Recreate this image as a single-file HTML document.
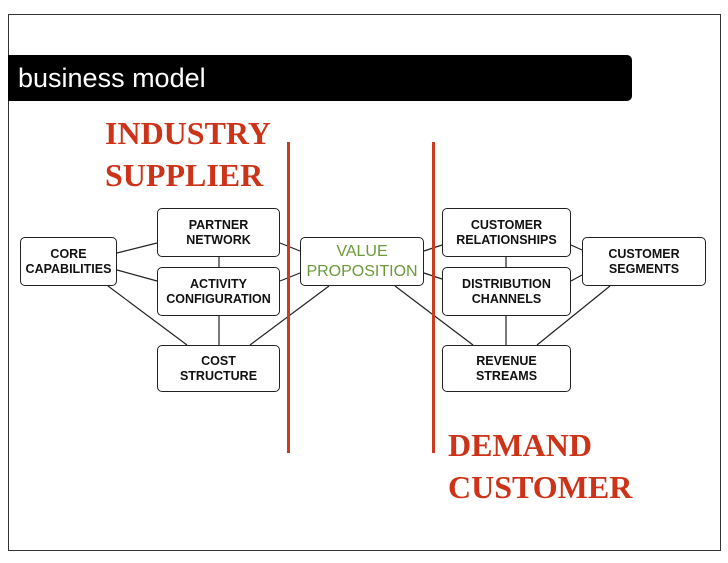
<!DOCTYPE html>
<html><head><style>
body{margin:0;background:#fff;width:728px;height:563px;position:relative;overflow:hidden;font-family:"Liberation Sans",sans-serif}
.frame{position:absolute;left:8px;top:14px;width:711px;height:535px;border:1px solid #333}
.bar{position:absolute;left:8px;top:55px;width:624px;height:46px;background:#000;border-radius:0 5px 5px 0;color:#fff;font-size:27px;line-height:46px;padding-left:10px;box-sizing:border-box}
.box{position:absolute;border:1.5px solid #222;border-radius:5px;background:#fff;box-sizing:border-box;display:flex;align-items:center;justify-content:center;text-align:center;font-weight:bold;font-size:12.5px;line-height:15px;color:#111}
.red{position:absolute;font-family:"Liberation Serif",serif;font-weight:bold;color:#cc3318;font-size:32px;line-height:42px}
.vl{position:absolute;width:3px;background:#cc3a20;top:142px;height:311px}
</style></head><body>
<div class="frame"></div>
<div class="bar">business model</div>
<div class="red" style="left:105px;top:112px">INDUSTRY<br>SUPPLIER</div>
<div class="red" style="left:448px;top:424px">DEMAND<br>CUSTOMER</div>
<svg style="position:absolute;left:0;top:0" width="728" height="563">
<g stroke="#222" stroke-width="1.2">
<line x1="117" y1="253" x2="157" y2="243"/>
<line x1="117" y1="270" x2="157" y2="281"/>
<line x1="108" y1="286" x2="187" y2="345"/>
<line x1="219" y1="257" x2="219" y2="267"/>
<line x1="219" y1="316" x2="219" y2="345"/>
<line x1="280" y1="243" x2="300" y2="251"/>
<line x1="280" y1="281" x2="300" y2="273"/>
<line x1="329" y1="286" x2="250" y2="345"/>
<line x1="424" y1="251" x2="442" y2="245"/>
<line x1="424" y1="273" x2="442" y2="279"/>
<line x1="395" y1="286" x2="473" y2="345"/>
<line x1="506" y1="257" x2="506" y2="267"/>
<line x1="506" y1="316" x2="506" y2="345"/>
<line x1="571" y1="245" x2="582" y2="250"/>
<line x1="571" y1="281" x2="582" y2="275"/>
<line x1="610" y1="286" x2="537" y2="345"/>
</g></svg>
<div class="vl" style="left:287px"></div>
<div class="vl" style="left:432px"></div>
<div class="box" style="left:157px;top:208px;width:123px;height:49px">PARTNER<br>NETWORK</div>
<div class="box" style="left:157px;top:267px;width:123px;height:49px">ACTIVITY<br>CONFIGURATION</div>
<div class="box" style="left:20px;top:237px;width:97px;height:49px">CORE<br>CAPABILITIES</div>
<div class="box" style="left:157px;top:345px;width:123px;height:47px">COST<br>STRUCTURE</div>
<div class="box" style="left:300px;top:237px;width:124px;height:49px;color:#6a9a3a;font-weight:normal;font-size:16px;line-height:20px">VALUE<br>PROPOSITION</div>
<div class="box" style="left:442px;top:208px;width:129px;height:49px">CUSTOMER<br>RELATIONSHIPS</div>
<div class="box" style="left:442px;top:267px;width:129px;height:49px">DISTRIBUTION<br>CHANNELS</div>
<div class="box" style="left:582px;top:237px;width:124px;height:49px">CUSTOMER<br>SEGMENTS</div>
<div class="box" style="left:442px;top:345px;width:129px;height:47px">REVENUE<br>STREAMS</div>
</body></html>
